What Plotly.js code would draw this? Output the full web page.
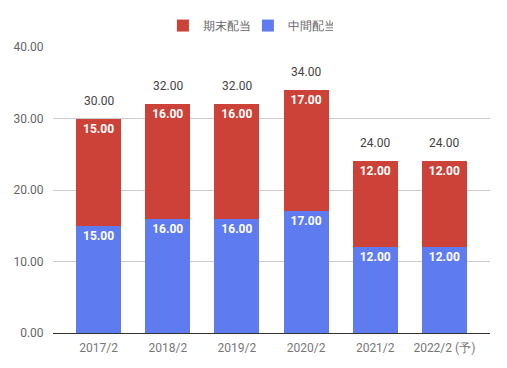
<!DOCTYPE html>
<html><head><meta charset="utf-8">
<script src="https://cdn.plot.ly/plotly-3.0.1.min.js"></script>
<style>html,body{margin:0;padding:0;background:#fff}</style>
</head><body>
<div id="chart" style="width:507px;height:368px"></div>
<script>
const categories = ["2017/2","2018/2","2019/2","2020/2","2021/2","2022/2 (予)"];
const interim = [15, 16, 16, 17, 12, 12];
const yearEnd = [15, 16, 16, 17, 12, 12];
const totals = [30, 32, 32, 34, 24, 24];
const yTicks = [0, 10, 20, 30, 40];

const fmt = v => v.toFixed(2);
const fontFam = "Roboto, Arial, sans-serif";

const traces = [
  {type:"bar", name:"中間配当", x:categories, y:interim, marker:{color:"#5f7bf0"},
   text:interim.map(fmt), textposition:"inside", insidetextanchor:"end",
   textfont:{color:"#fff", size:12, family:fontFam, weight:"bold"}, hoverinfo:"none", width:0.65},
  {type:"bar", name:"期末配当", x:categories, y:yearEnd, marker:{color:"#cc4238"},
   text:yearEnd.map(fmt), textposition:"inside", insidetextanchor:"end",
   textfont:{color:"#fff", size:12, family:fontFam, weight:"bold"}, hoverinfo:"none", width:0.65}
];

const annotations = categories.map((c, i) => ({
  x: c, y: totals[i], xref:"x", yref:"y", text: fmt(totals[i]), showarrow:false,
  yanchor:"bottom", yshift:9, font:{color:"#444", size:12, family:fontFam}
}));

const layout = {
  width:507, height:368,
  margin:{l:53, r:17, t:47, b:35, autoexpand:false},
  barmode:"stack",
  paper_bgcolor:"#fff", plot_bgcolor:"#fff",
  font:{family:fontFam, size:12, color:"#666"},
  annotations: annotations,
  xaxis:{type:"category", range:[-0.66, 5.66], showgrid:false, showline:true,
    linecolor:"#333", linewidth:1, ticks:"outside", ticklen:4, tickcolor:"rgba(0,0,0,0)",
    tickfont:{color:"#777", size:12}, fixedrange:true},
  yaxis:{range:[0, 40], tickvals:yTicks, ticktext:yTicks.map(fmt), showgrid:true,
    gridcolor:"#ccc", zeroline:true, zerolinecolor:"#333", showline:false,
    ticks:"outside", ticklen:6, tickcolor:"rgba(0,0,0,0)", tickfont:{color:"#666", size:12}, fixedrange:true},
  legend:{orientation:"h", x:0.446, xanchor:"center", y:1.075, yanchor:"middle",
    traceorder:"reversed", itemwidth:30, entrywidth:40, font:{color:"#666", size:12}},
  showlegend:true
};

Plotly.newPlot("chart", traces, layout, {displayModeBar:false, staticPlot:true});
</script>
</body></html>
